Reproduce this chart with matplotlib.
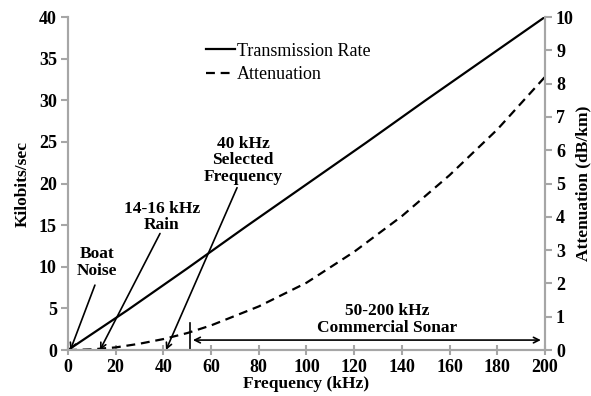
import matplotlib
matplotlib.use("Agg")
import matplotlib.pyplot as plt

plt.rcParams['font.family'] = ['Liberation Serif', 'DejaVu Serif']

freq_rate = [0, 25, 50, 75, 100, 125, 150, 175, 200]
rate = [0, 4.8, 9.8, 14.9, 19.9, 24.9, 30.0, 35.0, 40.0]

freq_att = [0, 10, 20, 30, 40, 50, 60, 80, 100, 120, 140, 160, 180, 200]
atten = [0, 0.02, 0.08, 0.19, 0.33, 0.51, 0.74, 1.31, 2.02, 2.95, 4.02, 5.25, 6.62, 8.2]

xticks = list(range(0, 201, 20))
lticks = list(range(0, 41, 5))
rticks = list(range(0, 11, 1))

gray = '#a6a6a6'

fig = plt.figure(figsize=(5.91, 3.96), dpi=100)
ax = fig.add_axes([0.115, 0.116, 0.807, 0.841])
ax2 = ax.twinx()

l1, = ax.plot(freq_rate, rate, color='black', lw=1.6, label='Transmission Rate')
l2, = ax2.plot(freq_att, atten, color='black', lw=1.6, ls=(0, (4, 2.6)), label='Attenuation')

ax.set_xlim(0, 200)
ax.set_ylim(0, 40)
ax2.set_ylim(0, 10)
ax.set_xticks(xticks)
ax.set_yticks(lticks)
ax2.set_yticks(rticks)

for a in (ax, ax2):
    for s in a.spines.values():
        s.set_color(gray)
        s.set_linewidth(1.5)
    a.spines['top'].set_visible(False)
    a.tick_params(colors=gray, width=1.5, length=5, labelcolor='black', labelsize=13, pad=3)
ax.tick_params(axis='x', direction='inout', length=7, pad=3)
for lab in ax.get_xticklabels() + ax.get_yticklabels() + ax2.get_yticklabels():
    lab.set_fontweight('bold')

ax.set_xlabel('Frequency (kHz)', fontsize=12.5, fontweight='bold', labelpad=0)
ax.set_ylabel('Kilobits/sec', fontsize=12.5, fontweight='bold', labelpad=6)
ax2.set_ylabel('Attenuation (dB/km)', fontsize=12.5, fontweight='bold', labelpad=1)

leg = ax.legend(handles=[l1, l2], loc='upper left', bbox_to_anchor=(0.275, 0.945),
                frameon=False, fontsize=13, handlelength=1.6, handletextpad=0.1,
                labelspacing=0.35, borderaxespad=0)

tk = dict(fontsize=12.5, fontweight='bold', ha='center', va='center', linespacing=1.05)
ax.text(73.4, 22.8, '40 kHz\nSelected\nFrequency', **tk)
ax.text(39.4, 16.0, '14-16 kHz\nRain', **tk)
ax.text(12.2, 10.5, 'Boat\nNoise', **tk)
ax.text(134, 3.7, '50-200 kHz\nCommercial Sonar', **tk)

arr = dict(arrowstyle='->', color='black', lw=1.2, shrinkA=0, shrinkB=0)
ax.annotate('', xy=(1, 0), xytext=(11.3, 7.8), arrowprops=arr)
ax.annotate('', xy=(13.4, 0), xytext=(38.6, 14.0), arrowprops=arr)
ax.annotate('', xy=(41.1, 0), xytext=(70.9, 19.5), arrowprops=arr)
ax.annotate('', xy=(52.4, 1.2), xytext=(198.3, 1.2),
            arrowprops=dict(arrowstyle='<->', color='black', lw=1.2, shrinkA=0, shrinkB=0))
ax.plot([51.2, 51.2], [0, 3.2], color='black', lw=1.2)

fig.savefig('out.png', dpi=100)
